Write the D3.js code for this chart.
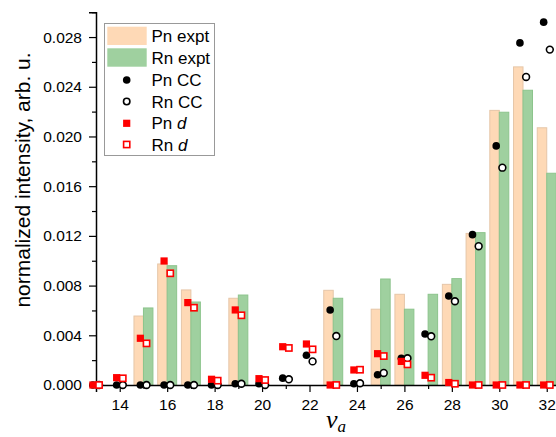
<!DOCTYPE html>
<html><head><meta charset="utf-8">
<script src="https://cdn.jsdelivr.net/npm/d3@7"></script>
<style>
body{margin:0;background:#fff;}
svg{display:block;font-family:"Liberation Sans",Arial,sans-serif;}
</style></head>
<body><svg id="c" width="556" height="437"></svg>
<script>
const categories = [13,14,15,16,17,18,19,20,21,22,23,24,25,26,27,28,29,30,31,32];
const pnExpt = [null,null,0.00555,0.00974,0.00765,null,0.00698,null,null,null,0.00762,null,0.0061,0.0073,null,0.0081,0.0122,0.0221,0.0256,0.0207];
const rnExpt = [null,null,0.0062,0.0096,0.00668,null,0.00724,null,null,null,0.00698,null,0.00853,0.0061,0.0073,0.00856,0.01226,0.02195,0.02372,0.01704];
const pnCC = [0,0,0,0,0,0,0.0001,0.0001,0.00055,0.0024,0.00604,0.0001,0.00083,0.00215,0.0041,0.00716,0.0121,0.01924,0.02753,0.0292];
const rnCC = [0,0,0,0,0,0,0.0001,0,0.00046,0.0019,0.00394,0.00014,0.00097,0.00215,0.00392,0.00674,0.01117,0.01749,0.02479,0.02699];
const pnD = [0,0.00059,0.00376,0.00998,0.00663,0.00046,0.00604,0.00051,0.00308,0.0033,0,0.00121,0.00252,0.0019,0.00078,0.0002,0,0,0,0];
const rnD = [0,0.00054,0.00335,0.00899,0.00622,0.00035,0.00561,0.0004,0.00298,0.00287,0,0.00123,0.00233,0.00166,0.00059,0.0001,0,0,0,0];
const xTicks = [14,16,18,20,22,24,26,28,30,32];
const yTicks = [0,0.004,0.008,0.012,0.016,0.020,0.024,0.028];
const legendLabels = ["Pn expt","Rn expt","Pn CC","Rn CC","Pn d","Rn d"];

const svg = d3.select("#c");
const x = d3.scaleLinear().domain([13, 32.5]).range([96, 558.6]);
const y = d3.scaleLinear().domain([0, 0.030]).range([385, 12.2]);

const barW = x(13.4) - x(13);
const colPn = "#fed9b6", colPnS = "#e6c6a8", colRn = "#9fd09f", colRnS = "#8cc48c";

// bars
const bars = svg.append("g");
categories.forEach((c,i)=>{
  if (pnExpt[i] != null) bars.append("rect").attr("x", x(c-0.4)).attr("width", barW)
    .attr("y", y(pnExpt[i])).attr("height", y(0)-y(pnExpt[i]))
    .attr("fill", colPn).attr("stroke", colPnS).attr("stroke-width", 1);
  if (rnExpt[i] != null) bars.append("rect").attr("x", x(c)).attr("width", barW)
    .attr("y", y(rnExpt[i])).attr("height", y(0)-y(rnExpt[i]))
    .attr("fill", colRn).attr("stroke", colRnS).attr("stroke-width", 1);
});

// axes
const xAxis = d3.axisBottom(x).tickValues(xTicks).tickSize(7).tickFormat(d3.format("d"));
const gx = svg.append("g").attr("transform", `translate(0,${y(0)})`).call(xAxis);
const xMinor = d3.axisBottom(x).tickValues(categories.filter(c=>c%2===1)).tickSize(4).tickFormat("");
svg.append("g").attr("transform", `translate(0,${y(0)})`).call(xMinor).select(".domain").remove();
gx.selectAll("text").attr("font-size", 15.5).attr("font-family","Liberation Sans, Arial, sans-serif").attr("fill","#000").attr("dy","0.95em");

const yAxis = d3.axisLeft(y).tickValues(yTicks).tickSize(7).tickFormat(d3.format(".3f"));
const gy = svg.append("g").attr("transform", `translate(${x(13)},0)`).call(yAxis);
const yMinor = d3.axisLeft(y).tickValues([0.002,0.006,0.010,0.014,0.018,0.022,0.026,0.030]).tickSize(4).tickFormat("");
svg.append("g").attr("transform", `translate(${x(13)},0)`).call(yMinor).select(".domain").remove();
gy.selectAll("text").attr("font-size", 15.5).attr("font-family","Liberation Sans, Arial, sans-serif").attr("fill","#000").attr("x",-14);
svg.selectAll(".domain").attr("stroke","#000").attr("stroke-width",1.5);
svg.selectAll(".tick line").attr("stroke","#000").attr("stroke-width",1.2);

// markers
const off = 0.13;
const mk = svg.append("g");
categories.forEach((c,i)=>{
  mk.append("circle").attr("cx", x(c-off)).attr("cy", y(pnCC[i])).attr("r", 3.8).attr("fill","#000");
});
categories.forEach((c,i)=>{
  mk.append("circle").attr("cx", x(c+off)).attr("cy", y(rnCC[i])).attr("r", 3.4).attr("fill","#fff").attr("stroke","#000").attr("stroke-width",1.6);
});
categories.forEach((c,i)=>{
  mk.append("rect").attr("x", x(c-off)-3.6).attr("y", y(pnD[i])-3.6).attr("width",7.2).attr("height",7.2).attr("fill","#ff0000");
});
categories.forEach((c,i)=>{
  mk.append("rect").attr("x", x(c+off)-3.1).attr("y", y(rnD[i])-3.1).attr("width",6.2).attr("height",6.2).attr("fill","#fff").attr("stroke","#ff0000").attr("stroke-width",1.6);
});

// axis titles
svg.append("text").attr("transform","translate(30,180) rotate(-90)").attr("text-anchor","middle")
  .attr("font-size",21).attr("fill","#000").text("normalized intensity, arb. u.");
const xt = svg.append("text").attr("x",326).attr("y",428).attr("font-family","Liberation Serif, Times New Roman, serif")
  .attr("font-style","italic").attr("fill","#000");
xt.append("tspan").attr("font-size",26).text("v");
xt.append("tspan").attr("font-size",17).attr("dy",4).text("a");

// legend
const lg = svg.append("g");
lg.append("rect").attr("x",104.5).attr("y",23.5).attr("width",110).attr("height",132).attr("fill","#fff").attr("stroke","#999").attr("stroke-width",1);
const rowY = [35.8,57.5,80,101.5,123.3,144.5];
lg.append("rect").attr("x",107.3).attr("y",26.7).attr("width",39.4).attr("height",18.3).attr("fill",colPn);
lg.append("rect").attr("x",107.3).attr("y",48.3).attr("width",39.4).attr("height",18.4).attr("fill",colRn);
lg.append("circle").attr("cx",126.7).attr("cy",rowY[2]).attr("r",3.8).attr("fill","#000");
lg.append("circle").attr("cx",126.7).attr("cy",rowY[3]).attr("r",3.2).attr("fill","#fff").attr("stroke","#000").attr("stroke-width",1.6);
lg.append("rect").attr("x",126.7-3.6).attr("y",rowY[4]-3.6).attr("width",7.2).attr("height",7.2).attr("fill","#ff0000");
lg.append("rect").attr("x",126.7-3.1).attr("y",rowY[5]-3.1).attr("width",6.2).attr("height",6.2).attr("fill","#fff").attr("stroke","#ff0000").attr("stroke-width",1.6);
legendLabels.forEach((t,i)=>{
  const tx = lg.append("text").attr("x",151.5).attr("y",rowY[i]).attr("dy","0.36em").attr("font-size",17).attr("fill","#000");
  const parts = t.split(" ");
  if (parts[1] === "d") {
    tx.append("tspan").text(parts[0] + " ");
    tx.append("tspan").attr("font-style","italic").text("d");
  } else tx.text(t);
});
</script></body></html>
